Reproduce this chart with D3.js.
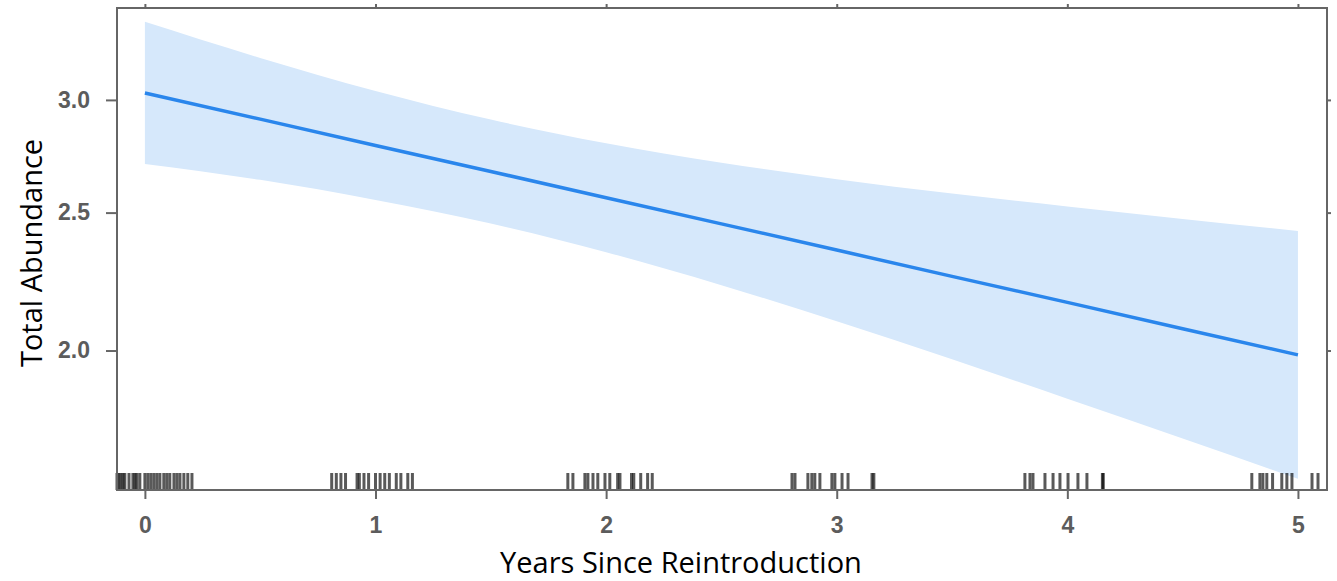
<!DOCTYPE html>
<html>
<head>
<meta charset="utf-8">
<script src="https://cdn.jsdelivr.net/npm/d3@7"></script>
<style>
  html, body { margin: 0; padding: 0; background: #ffffff; }
  svg { display: block; }
</style>
</head>
<body>
<svg id="chart" width="1337" height="581"></svg>
<script>
// Fitted total abundance (response scale) over years since reintroduction
const years      = [0, 0.5, 1, 1.5, 2, 2.5, 3, 3.5, 4, 4.5, 5];
const fitted     = [3.034, 2.908, 2.787, 2.672, 2.561, 2.455, 2.353, 2.255, 2.162, 2.072, 1.986];
const upperCI    = [3.404, 3.211, 3.044, 2.906, 2.797, 2.710, 2.639, 2.578, 2.525, 2.474, 2.427];
const lowerCI    = [2.705, 2.636, 2.552, 2.456, 2.345, 2.223, 2.097, 1.972, 1.850, 1.735, 1.625];

// Observed (jittered) years, shown as a rug along the x axis
const rugYears = [
  -0.121, -0.113, -0.104, -0.095, -0.087, -0.069, -0.052, -0.043, -0.035, -0.022,
  0.000, 0.013, 0.026, 0.039, 0.052, 0.065, 0.082, 0.095, 0.108, 0.126,
  0.139, 0.152, 0.169, 0.186, 0.204,
  0.810, 0.830, 0.850, 0.870, 0.920, 0.930, 0.950, 0.970, 1.000, 1.020,
  1.040, 1.060, 1.090, 1.110, 1.140, 1.160,
  1.834, 1.856, 1.908, 1.921, 1.943, 1.964, 1.995, 2.016, 2.050, 2.060,
  2.110, 2.120, 2.150, 2.180, 2.200,
  2.806, 2.819, 2.875, 2.892, 2.905, 2.927, 2.979, 2.992, 3.023, 3.049,
  3.153, 3.161,
  3.816, 3.838, 3.851, 3.903, 3.938, 3.968, 4.003, 4.046, 4.085, 4.152, 4.156,
  4.800, 4.835, 4.848, 4.865, 4.890, 4.930, 4.952, 4.974, 5.061, 5.087
];

const xTicks = [0, 1, 2, 3, 4, 5];
const yTicks = [2.0, 2.5, 3.0];
const xTitle = "Years Since Reintroduction";
const yTitle = "Total Abundance";

const svg = d3.select("#chart");
const plot = { left: 117, right: 1327, top: 8, bottom: 490 };

const x = d3.scaleLinear().domain([-0.121, 5.126]).range([plot.left, plot.right]);
const y = d3.scaleLog().domain([1.596, 3.481]).range([plot.bottom, plot.top]);

const rows = years.map((yr, i) => ({ yr, fit: fitted[i], lo: lowerCI[i], hi: upperCI[i] }));

// confidence band
svg.append("path")
  .datum(rows)
  .attr("fill", "#d6e8fb")
  .attr("d", d3.area()
    .x(d => x(d.yr))
    .y0(d => y(d.lo))
    .y1(d => y(d.hi))
    .curve(d3.curveMonotoneX));

// fitted line
svg.append("path")
  .datum(rows)
  .attr("fill", "none")
  .attr("stroke", "#2a86ec")
  .attr("stroke-width", 3.5)
  .attr("d", d3.line().x(d => x(d.yr)).y(d => y(d.fit)));

// rug
svg.append("g")
  .selectAll("line")
  .data(rugYears)
  .join("line")
  .attr("x1", d => x(d)).attr("x2", d => x(d))
  .attr("y1", plot.bottom - 17).attr("y2", plot.bottom)
  .attr("stroke", "#000")
  .attr("stroke-opacity", 0.65)
  .attr("stroke-width", 3);

// frame
svg.append("rect")
  .attr("x", plot.left).attr("y", plot.top)
  .attr("width", plot.right - plot.left).attr("height", plot.bottom - plot.top)
  .attr("fill", "none")
  .attr("stroke", "#666")
  .attr("stroke-width", 2);

function styleAxis(g) {
  g.select(".domain").remove();
  g.selectAll(".tick line").attr("stroke", "#666").attr("stroke-width", 2);
  g.selectAll(".tick text")
    .attr("fill", "#5c5c5c")
    .attr("font-family", "Liberation Sans, Arial, sans-serif")
    .attr("font-weight", "bold")
    .attr("font-size", 23);
}

svg.append("g")
  .attr("transform", `translate(0,${plot.bottom})`)
  .call(d3.axisBottom(x).tickValues(xTicks).tickFormat(d3.format("d")).tickSize(9).tickPadding(18))
  .call(styleAxis);

svg.append("g")
  .attr("transform", `translate(${plot.left},0)`)
  .call(d3.axisLeft(y).tickValues(yTicks).tickFormat(d3.format(".1f")).tickSize(11).tickPadding(16))
  .call(styleAxis);

svg.append("g")
  .attr("transform", `translate(0,${plot.top})`)
  .call(d3.axisTop(x).tickValues(xTicks).tickFormat("").tickSize(4))
  .call(styleAxis);

svg.append("g")
  .attr("transform", `translate(${plot.right},0)`)
  .call(d3.axisRight(y).tickValues(yTicks).tickFormat("").tickSize(4))
  .call(styleAxis);

// axis titles
svg.append("text")
  .attr("x", 681).attr("y", 573)
  .attr("text-anchor", "middle")
  .attr("font-family", "Open Sans, sans-serif")
  .attr("font-size", 29)
  .attr("fill", "#000")
  .text(xTitle);

svg.append("text")
  .attr("transform", "translate(42,253) rotate(-90)")
  .attr("text-anchor", "middle")
  .attr("font-family", "Open Sans, sans-serif")
  .attr("font-size", 29)
  .attr("fill", "#000")
  .text(yTitle);
</script>
</body>
</html>
